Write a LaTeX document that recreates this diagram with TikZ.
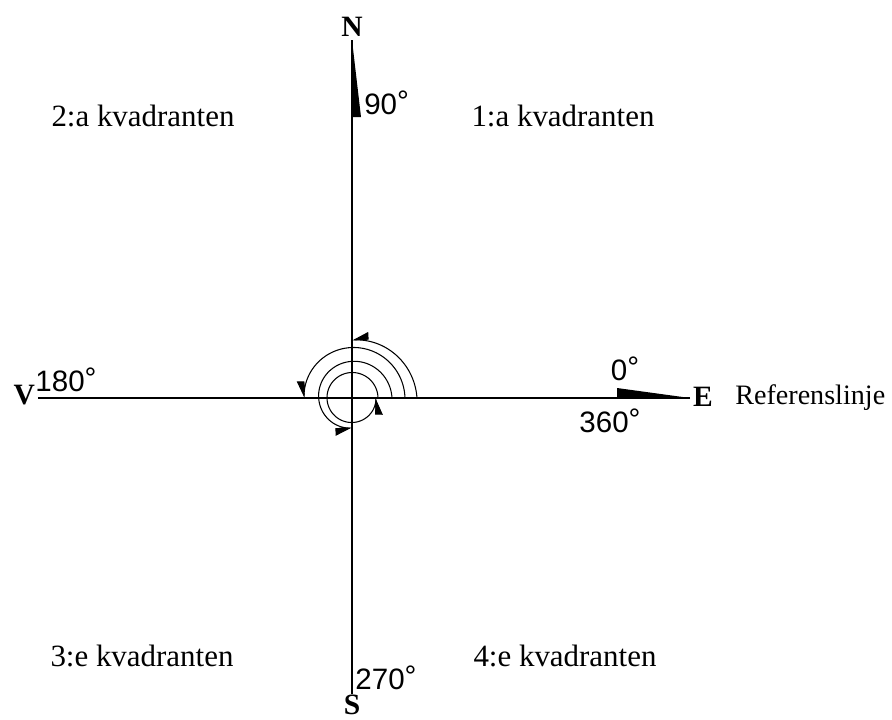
\documentclass[tikz,border=0pt]{standalone}
\usepackage{fontspec}
\setmainfont{Liberation Serif}
\newfontfamily\numfont{Liberation Sans}
\usetikzlibrary{arrows.meta,positioning}

\newcommand{\dg}{\raisebox{0.12em}{°}}

\begin{document}
\begin{tikzpicture}[
  x=0.025cm, y=0.025cm,
  font=\fontsize{22}{26}\selectfont,
  >={Triangle[length=11pt,width=10pt,harpoon,swap]},
  dir/.style={font=\fontsize{21}{24}\selectfont\bfseries, inner sep=2pt},
  deg/.style={font=\fontsize{21}{24}\selectfont\numfont, inner sep=0pt},
  quad/.style={inner sep=0pt},
  axis/.style={draw=black, line width=0.75pt},
  turn/.style={->, draw=black, line width=0.75pt}
]
\useasboundingbox (-352,-321) rectangle (540,398);

\coordinate (O) at (0,0);
\node[dir, anchor=south] (N) at (0,358) {N};
\node[dir, anchor=north, inner sep=0.5pt] (S) at (0,-296) {S};
\node[dir, anchor=east] (V) at (-314,3) {V};
\node[dir, anchor=west] (E) at (338,1) {E};
\node[anchor=base west, inner sep=0pt, font=\fontsize{20}{24}\selectfont] (ref) at (383,-6) {Referenslinje};

% axes
\draw[axis] (N.south) -- (S.north);
\draw[axis] (V.east |- O) -- (O);
\draw[axis, line width=1.5pt] (O) -- (E.west |- O);

% pointers on the axes
\fill (N.south) -- ++(9,-77) -- ++(-9,0) -- cycle;
\fill (E.west |- O) -- ++(-73,10) -- ++(0,-10) -- cycle;

% turns
\draw[turn] plot[domain=0:90, samples=40] (\x:{65-7*\x/90});
\draw[turn] plot[domain=0:180, samples=60] (\x:{53-5*\x/180});
\draw[turn] plot[domain=0:270, samples=80] (\x:{40-10*\x/270});
\draw[turn] plot[domain=0:360, samples=100] (\x:{26-2*\x/360});

% angles
\node[deg, anchor=west] (d90) at (12,295) {90\dg};
\node[deg] (d180) at (-286,18) {180\dg};
\node[deg] (d0) at (273,29) {0\dg};
\node[deg] (d360) at (258,-23) {360\dg};
\node[deg] (d270) at (34,-280) {270\dg};

% quadrants
\node[quad] (q1) at (211,282) {1:a kvadranten};
\node[quad] (q2) at (-209,282) {2:a kvadranten};
\node[quad] (q3) at (-210,-258) {3:e kvadranten};
\node[quad] (q4) at (213,-258) {4:e kvadranten};
\end{tikzpicture}
\end{document}
